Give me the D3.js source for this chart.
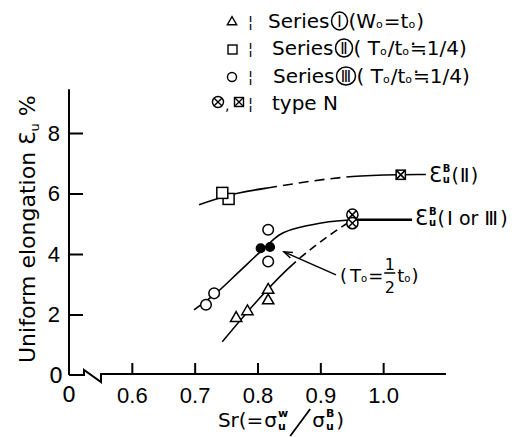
<!DOCTYPE html>
<html>
<head>
<meta charset="utf-8">
<style>
  body { margin: 0; background: #fff; }
  svg { display: block; font-family: 'DejaVu Sans', sans-serif; }
  .axis .tick line { stroke: #000; stroke-width: 2; }
  .axis .tick text { font-size: 22px; fill: #000; }
</style>
</head>
<body>
<script src="https://cdn.jsdelivr.net/npm/d3@7"></script>
<script>
// Sr (= sigma_u^w / sigma_u^B) against uniform elongation (%)
var seriesI = [[0.766, 1.88], [0.784, 2.10], [0.817, 2.46], [0.817, 2.81]];
var seriesII = [[0.754, 5.82], [0.744, 6.02]];
var seriesIII = [[0.718, 2.32], [0.731, 2.70], [0.817, 3.75], [0.817, 4.80]];
var halfT = [[0.805, 4.19], [0.820, 4.23]];
var typeNCircle = [[0.951, 5.30], [0.951, 5.02]];
var typeNBox = [[1.028, 6.62]];

// fitted curves
var curveII = [[0.707, 5.63], [0.75, 5.92], [0.831, 6.23], [0.951, 6.56], [1.03, 6.62], [1.068, 6.63]];
var curveIII = [[0.699, 2.15], [0.735, 2.72], [0.77, 3.40], [0.81, 4.18], [0.834, 4.62], [0.887, 4.97], [0.951, 5.13]];
var flatIII = [[0.951, 5.13], [1.046, 5.13]];
var curveI = [[0.744, 1.10], [0.861, 3.75], [0.91, 4.55], [0.951, 5.13]];
var arrowHalfT = [[0.925, 3.31], [0.842, 4.07]];

var xTicks = [0.6, 0.7, 0.8, 0.9, 1.0];
var xTickLabels = ["0.6", "0.7", "0.8", "0.9", "1.0"];
var yTicks = [2, 4, 6, 8];

var width = 529, height = 437;

var svg = d3.select("body").append("svg")
	.attr("width", width)
	.attr("height", height);

svg.append("rect").attr("width", width).attr("height", height).attr("fill", "#fff");

// 0.5 sits at the origin (axis is broken between 0 and 0.6)
var x = d3.scaleLinear().domain([0.5, 1.1]).range([69, 446]);
var y = d3.scaleLinear().domain([0, 8]).range([375, 133]);

var line = d3.line().x(d => x(d[0])).y(d => y(d[1]));
var smooth = d3.line().x(d => x(d[0])).y(d => y(d[1])).curve(d3.curveMonotoneX);

// lays text pieces left to right; returns the end x
function flow(g, x0, base, size, pieces) {
	var cx = x0;
	pieces.forEach(function (p) {
		if (p.sup !== undefined) {
			var s = p.size || 10;
			var a = g.append("text").attr("x", cx).attr("y", base - p.up).attr("font-size", s).attr("font-weight", "bold").text(p.sup);
			var b = g.append("text").attr("x", cx).attr("y", base + p.down).attr("font-size", s).attr("font-weight", "bold").text(p.sub);
			cx += Math.max(a.node().getComputedTextLength(), b.node().getComputedTextLength()) + (p.gap || 0);
		} else if (p.slash) {
			g.append("line").attr("x1", cx + 2).attr("y1", base + 9).attr("x2", cx + p.w - 2).attr("y2", base - 18)
				.attr("stroke", "#000").attr("stroke-width", 1.8);
			cx += p.w;
		} else if (p.frac) {
			var fs = p.size || 16, w = 11;
			g.append("text").attr("x", cx + w / 2).attr("y", base - 12).attr("text-anchor", "middle").attr("font-size", fs).text(p.frac[0]);
			g.append("line").attr("x1", cx).attr("x2", cx + w).attr("y1", base - 9).attr("y2", base - 9)
				.attr("stroke", "#000").attr("stroke-width", 1.5);
			g.append("text").attr("x", cx + w / 2).attr("y", base + 11).attr("text-anchor", "middle").attr("font-size", fs).text(p.frac[1]);
			cx += w + (p.gap || 0);
		} else if (p.ring) {
			var r = p.rx || 8;
			g.append("ellipse").attr("cx", cx + r).attr("cy", base - 7).attr("rx", r).attr("ry", 9)
				.attr("fill", "none").attr("stroke", "#000").attr("stroke-width", 1.5);
			g.append("text").attr("x", cx + r).attr("y", base - 1.5).attr("text-anchor", "middle")
				.attr("font-size", p.fs || 15).text(p.ring);
			cx += 2 * r + (p.gap || 0);
		} else {
			var t = g.append("text").attr("x", cx).attr("y", base + (p.dy || 0)).attr("font-size", p.size || size).text(p.t);
			cx += t.node().getComputedTextLength() + (p.gap || 0);
		}
	});
	return cx;
}

// x axis
var xAxis = svg.append("g")
	.attr("class", "axis")
	.attr("transform", "translate(0," + y(0) + ")")
	.call(d3.axisBottom(x).tickValues(xTicks).tickSizeInner(-12).tickSizeOuter(0).tickPadding(12)
		.tickFormat((d, i) => xTickLabels[i]));
xAxis.select(".domain").remove();

// broken baseline
var x0 = x(0.5), y0 = y(0);
svg.append("path")
	.attr("d", "M" + x0 + "," + y0 + "H" + (x0 + 15) + "V" + (y0 - 5) + "L" + (x0 + 32) + "," + (y0 + 7) +
		"V" + (y0 - 1) + "H" + x(1.1))
	.attr("fill", "none").attr("stroke", "#000").attr("stroke-width", 2);

// y axis
var yAxis = svg.append("g")
	.attr("class", "axis")
	.attr("transform", "translate(" + x0 + ",0)")
	.call(d3.axisLeft(y).tickValues(yTicks).tickSizeInner(-14).tickSizeOuter(0).tickPadding(9));
yAxis.select(".domain").remove();
svg.append("line")
	.attr("x1", x0).attr("x2", x0).attr("y1", y(0)).attr("y2", y(9.45))
	.attr("stroke", "#000").attr("stroke-width", 2);

svg.append("text").attr("x", x0).attr("y", y0 + 27).attr("text-anchor", "middle")
	.attr("font-size", 22).text("0");
svg.append("text").attr("x", x0 - 6).attr("y", y0 + 8).attr("text-anchor", "end")
	.attr("font-size", 22).text("0");

// axis titles
var yTitle = svg.append("text")
	.attr("transform", "translate(35,363) rotate(-90)")
	.attr("font-size", 22);
yTitle.append("tspan").text("Uniform elongation ");
yTitle.append("tspan").text("Ɛ");
yTitle.append("tspan").attr("font-size", 13).attr("dy", 4).text("u");
yTitle.append("tspan").attr("dy", -4).text(" %");

var xTitle = svg.append("g");
var xEnd = flow(xTitle, 0, 427, 20, [
	{ t: "Sr(=", gap: 1 },
	{ t: "σ", gap: 1 },
	{ sup: "w", sub: "u", up: 10, down: 3, size: 11 },
	{ slash: true, w: 24 },
	{ t: "σ", gap: 1 },
	{ sup: "B", sub: "u", up: 10, down: 3, size: 11, gap: 2 },
	{ t: ")" }
]);
xTitle.attr("transform", "translate(" + (281 - xEnd / 2) + ",0)");

// solid path with a dashed stretch between two x positions
function lengthAtX(node, px) {
	var lo = 0, hi = node.getTotalLength();
	for (var i = 0; i < 30; i++) {
		var mid = (lo + hi) / 2;
		if (node.getPointAtLength(mid).x < px) lo = mid; else hi = mid;
	}
	return lo;
}
function dashStretch(path, fromX, toX, dash, gap) {
	var node = path.node();
	var total = node.getTotalLength();
	var a = lengthAtX(node, x(fromX)), b = lengthAtX(node, x(toX));
	var arr = [a], pos = a;
	while (true) {
		arr.push(gap); pos += gap;
		if (pos + dash >= b) { arr.push(total); arr.push(0); break; }
		arr.push(dash); pos += dash;
	}
	path.attr("stroke-dasharray", arr.join(","));
}

var curves = svg.append("g").attr("fill", "none").attr("stroke", "#000").attr("stroke-width", 1.6);
var pII = curves.append("path").attr("d", smooth(curveII));
dashStretch(pII, 0.831, 0.951, 10, 6);
curves.append("path").attr("d", smooth(curveIII));
curves.append("path").attr("d", line(flatIII)).attr("stroke-width", 2.6);
var pI = curves.append("path").attr("d", smooth(curveI));
dashStretch(pI, 0.861, 0.951, 8, 5);

// arrow to the T0 = t0/2 pair
var a0 = [x(arrowHalfT[0][0]), y(arrowHalfT[0][1])], a1 = [x(arrowHalfT[1][0]), y(arrowHalfT[1][1])];
var ang = Math.atan2(a1[1] - a0[1], a1[0] - a0[0]);
curves.append("path").attr("d", line(arrowHalfT)).attr("stroke-width", 1.4);
curves.append("path")
	.attr("d", "M" + (a1[0] - 9 * Math.cos(ang - 0.35)) + "," + (a1[1] - 9 * Math.sin(ang - 0.35)) +
		"L" + a1[0] + "," + a1[1] +
		"L" + (a1[0] - 9 * Math.cos(ang + 0.35)) + "," + (a1[1] - 9 * Math.sin(ang + 0.35)))
	.attr("stroke-width", 1.4);

// markers
var marks = svg.append("g").attr("stroke", "#000").attr("stroke-width", 1.5).attr("fill", "#fff");
var tri = d3.symbol().type(d3.symbolTriangle).size(55);
marks.selectAll(".tri").data(seriesI).join("path")
	.attr("transform", d => "translate(" + x(d[0]) + "," + y(d[1]) + ")")
	.attr("d", tri);
marks.selectAll(".sq").data(seriesII).join("rect")
	.attr("x", d => x(d[0]) - 5.5).attr("y", d => y(d[1]) - 5.5)
	.attr("width", 11).attr("height", 11);
marks.selectAll(".ci").data(seriesIII).join("circle")
	.attr("cx", d => x(d[0])).attr("cy", d => y(d[1])).attr("r", 5.3);
marks.selectAll(".half").data(halfT).join("circle")
	.attr("cx", d => x(d[0])).attr("cy", d => y(d[1])).attr("r", 4.3).attr("fill", "#000");

function crossedCircle(g, cx, cy, r) {
	g.append("circle").attr("cx", cx).attr("cy", cy).attr("r", r);
	var k = r * 0.7;
	g.append("path").attr("d", "M" + (cx - k) + "," + (cy - k) + "L" + (cx + k) + "," + (cy + k) +
		"M" + (cx + k) + "," + (cy - k) + "L" + (cx - k) + "," + (cy + k));
}
function crossedBox(g, cx, cy, h) {
	g.append("rect").attr("x", cx - h).attr("y", cy - h).attr("width", 2 * h).attr("height", 2 * h);
	g.append("path").attr("d", "M" + (cx - h) + "," + (cy - h) + "L" + (cx + h) + "," + (cy + h) +
		"M" + (cx + h) + "," + (cy - h) + "L" + (cx - h) + "," + (cy + h));
}
typeNCircle.forEach(d => crossedCircle(marks, x(d[0]), y(d[1]), 5.6));
typeNBox.forEach(d => crossedBox(marks, x(d[0]), y(d[1]), 4.6));

// curve labels
function epsLabel(lx, base, rest) {
	flow(svg.append("g"), lx, base, 19, [
		{ t: "Ɛ", size: 21, gap: 1 },
		{ sup: "B", sub: "u", up: 10, down: 1, size: 10, gap: 1 }
	].concat(rest));
}
epsLabel(x(1.068) + 3, 182, [{ t: "(", gap: 1 }, { t: "Ⅱ", size: 20, gap: 1 }, { t: ")" }]);
epsLabel(x(1.046) + 3, 225, [{ t: "(", gap: 2 }, { t: "Ⅰ", size: 20, gap: 6 }, { t: "or", gap: 6 },
	{ t: "Ⅲ", size: 20, gap: 2 }, { t: ")" }]);

// T0 = t0/2 note
flow(svg.append("g"), 340, 282, 18, [
	{ t: "(", gap: 3 },
	{ t: "T" },
	{ t: "o", size: 10, gap: 1 },
	{ t: "=", gap: 1 },
	{ frac: ["1", "2"], gap: 2 },
	{ t: "t" },
	{ t: "o", size: 10, gap: 1 },
	{ t: ")" }
]);

// legend
var legend = svg.append("g").attr("font-size", 20);
var legRows = [
	{ base: 28, numeral: "Ⅰ", rx: 8, rest: ["(W", "=t", ")"], gap: 0 },
	{ base: 55, numeral: "Ⅱ", rx: 8.5, rest: ["( T", "/t", "≒1/4)"], gap: 4 },
	{ base: 83, numeral: "Ⅲ", rx: 9.5, rest: ["( T", "/t", "≒1/4)"], gap: 5 }
];
var lm = legend.append("g").attr("stroke", "#000").attr("stroke-width", 1.4).attr("fill", "#fff");
lm.append("path").attr("transform", "translate(232,22)").attr("d", d3.symbol().type(d3.symbolTriangle).size(38));
lm.append("rect").attr("x", 228).attr("y", 45).attr("width", 9).attr("height", 9);
lm.append("circle").attr("cx", 232).attr("cy", 77).attr("r", 4.5);
crossedCircle(lm, 218, 102, 5.5);
crossedBox(lm, 239, 102, 4.5);
legend.append("text").attr("x", 225).attr("y", 110).attr("font-size", 14).text(",");

legRows.forEach(function (r) {
	legend.append("text").attr("x", 248).attr("y", r.base - 1).attr("font-size", 15).text("¦");
	flow(legend, 268 + r.gap, r.base, 20, [
		{ t: "Series", gap: 2 },
		{ ring: r.numeral, rx: r.rx, gap: 1 },
		{ t: r.rest[0] },
		{ t: "o", size: 11, gap: 1 },
		{ t: r.rest[1] },
		{ t: "o", size: 11, gap: 1 },
		{ t: r.rest[2] }
	]);
});
legend.append("text").attr("x", 248).attr("y", 109).attr("font-size", 15).text("¦");
legend.append("text").attr("x", 272).attr("y", 110).text("type  N");
</script>
</body>
</html>
